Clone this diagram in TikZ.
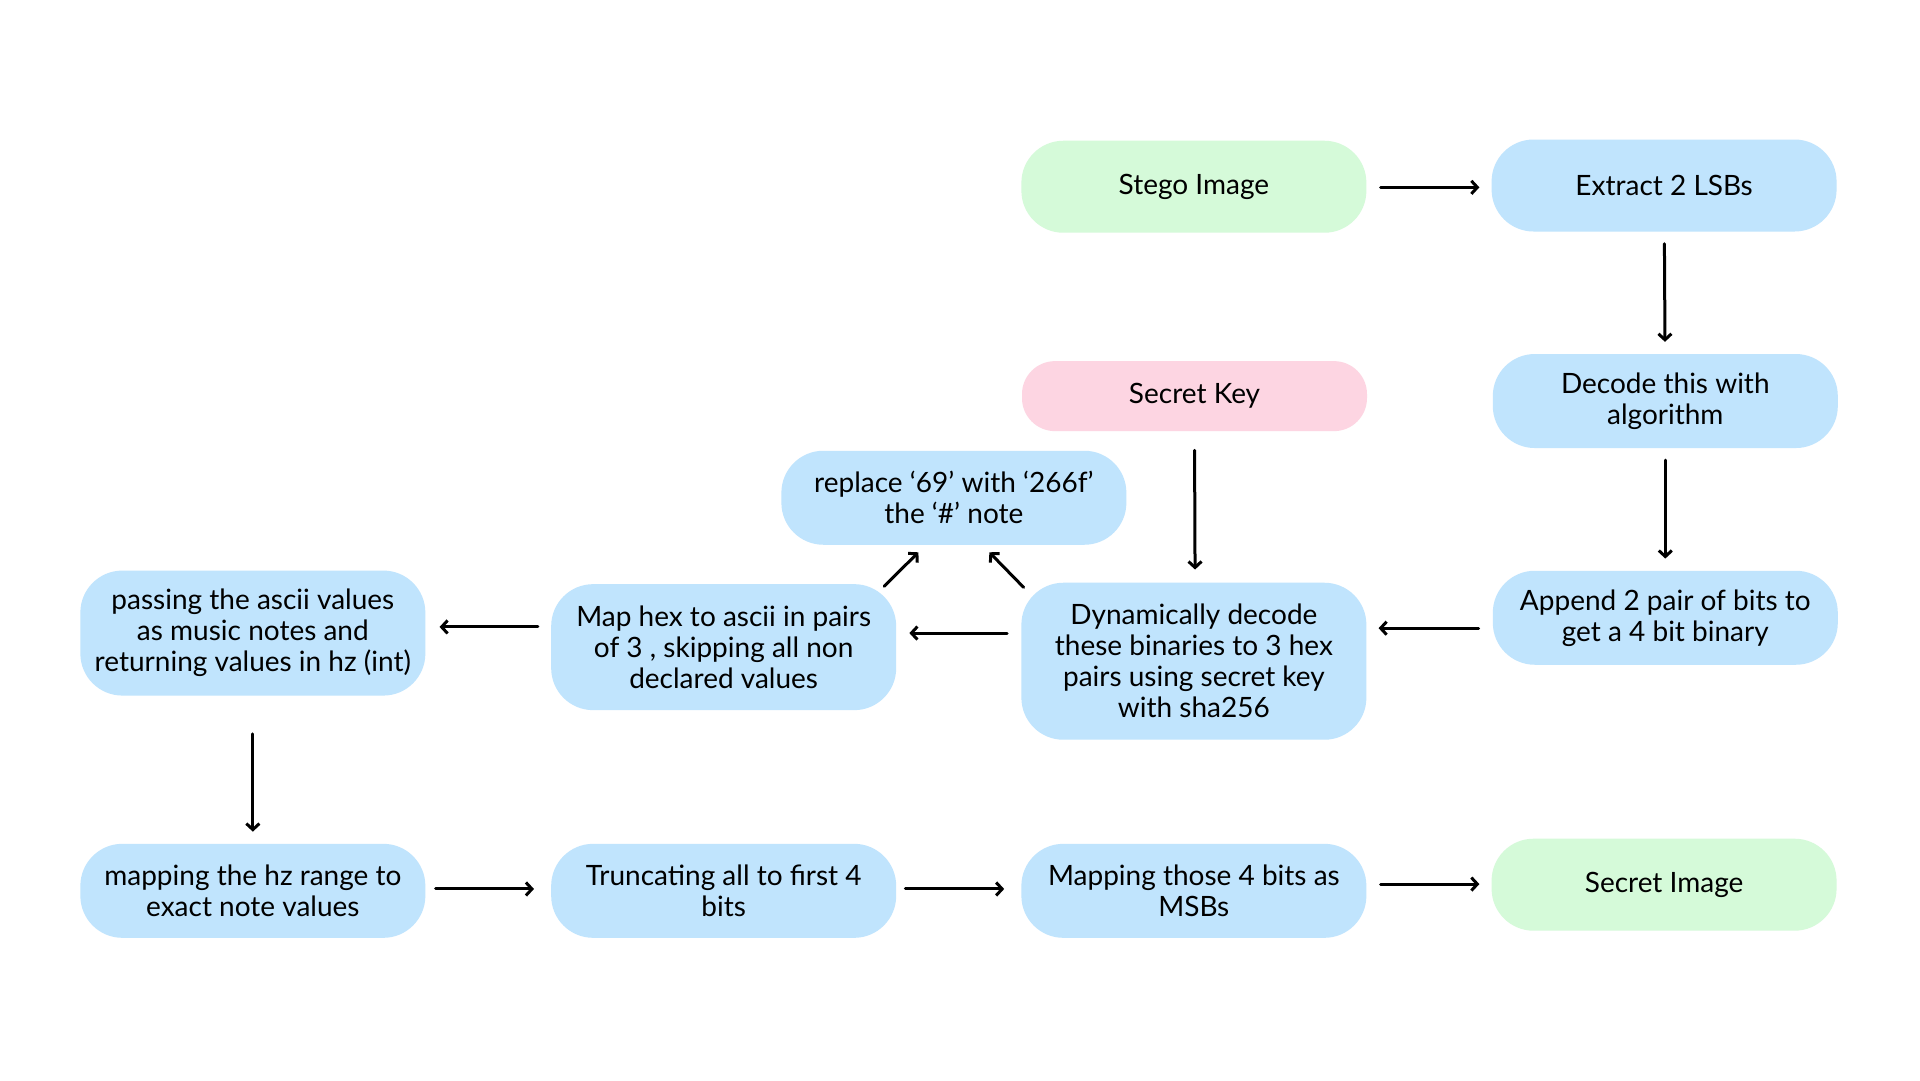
\documentclass[tikz,border=0pt]{standalone}
\usepackage{fontspec}
\setmainfont{Lato}
\usetikzlibrary{arrows.meta,calc}
\definecolor{boxblue}{RGB}{192,228,253}
\definecolor{boxgreen}{RGB}{213,250,217}
\definecolor{boxpink}{RGB}{253,213,226}
\begin{document}
\begin{tikzpicture}[x=1.2245pt,y=-1.2245pt,
  box/.style={rounded corners=42pt, minimum width=345pt, inner sep=0pt, align=center,
    font=\fontsize{28}{31}\selectfont, text=black},
  bluebox/.style={box, fill=boxblue},
  greenbox/.style={box, fill=boxgreen},
  pinkbox/.style={box, fill=boxpink, rounded corners=33pt},
  arr/.style={-{Straight Barb[length=6pt,width=13pt,line width=3pt]}, line width=3pt, line cap=round}]
\useasboundingbox[fill=white] (0,0) rectangle (1568,882);

\node[greenbox, minimum height=92pt] (stego) at (975,152.5) {Stego Image};
\node[bluebox, minimum height=92pt] (extract) at (1359,151.5) {Extract 2 LSBs};
\node[bluebox, minimum height=94pt] (decode) at (1360,327.5) {Decode this with\\algorithm};
\node[pinkbox, minimum height=70pt] (key) at (975.5,323.5) {Secret Key};
\node[bluebox, minimum height=94pt] (replace) at (779,406.5) {replace ‘69’ with ‘266f’\\the ‘\#’ note};
\node[bluebox, minimum height=157pt] (dyn) at (975,540) {Dynamically decode\\these binaries to 3 hex\\pairs using secret key\\with sha256};
\node[bluebox, minimum height=94pt] (append) at (1360,504.5) {Append 2 pair of bits to\\get a 4 bit binary};
\node[bluebox, minimum height=126pt] (maphex) at (591,528.5) {Map hex to ascii in pairs\\of 3 , skipping all non\\declared values};
\node[bluebox, minimum height=125pt] (passing) at (206.5,517) {passing the ascii values\\as music notes and\\returning values in hz (int)};
\node[bluebox, minimum height=94pt] (hz) at (206.5,727.5) {mapping the hz range to\\exact note values};
\node[bluebox, minimum height=94pt] (trunc) at (591,727.5) {Truncating all to first 4\\bits};
\node[bluebox, minimum height=94pt] (mapms) at (975,727.5) {Mapping those 4 bits as\\MSBs};
\node[greenbox, minimum height=92pt] (secimg) at (1359,722.5) {Secret Image};

\draw[arr, shorten <=14pt, shorten >=12pt] (stego.east |- 0,153) -- (extract.west |- 0,153);
\draw[arr, shorten <=12pt, shorten >=12pt] (extract) -- (decode);
\draw[arr, shorten <=12pt, shorten >=12pt] (decode) -- (append);
\draw[arr, shorten <=19pt, shorten >=13pt] (key.south) -- ($(dyn.north)+(1,0)$);
\draw[arr, shorten <=14pt, shorten >=12pt] (append.west |- 0,513) -- (dyn.east |- 0,513);
\draw[arr, shorten <=14pt, shorten >=13pt] (dyn.west |- 0,517) -- (maphex.east |- 0,517);
\draw[arr, shorten <=13pt, shorten >=14pt] (maphex.west |- 0,512) -- (passing.east |- 0,512);
\draw[arr] ($(maphex.north)+(131,2)$) -- ($(replace.south)+(-29,6)$);
\draw[arr] ($(dyn.north)+(-139,4)$) -- ($(replace.south)+(29,6)$);
\draw[arr, shorten <=38pt, shorten >=12pt] (passing) -- (hz);
\draw[arr, shorten <=10pt, shorten >=17pt] (hz.east |- 0,726) -- (trunc.west |- 0,726);
\draw[arr, shorten <=9pt, shorten >=17pt] (trunc.east |- 0,726) -- (mapms.west |- 0,726);
\draw[arr, shorten <=14pt, shorten >=12pt] (mapms.east |- 0,722) -- (secimg.west |- 0,722);
\end{tikzpicture}
\end{document}
